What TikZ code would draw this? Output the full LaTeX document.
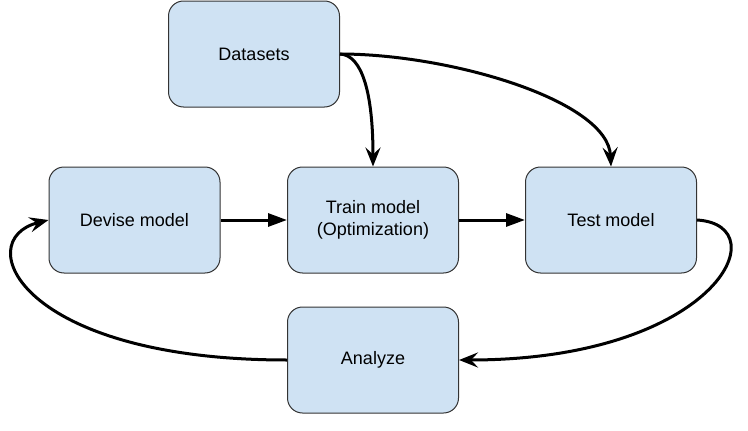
\documentclass[tikz,border=0pt]{standalone}
\usepackage{fontspec}
\setmainfont{Liberation Sans}
\usetikzlibrary{arrows.meta}
\definecolor{boxblue}{HTML}{CFE2F3}
\definecolor{boxline}{HTML}{333333}

\begin{document}
\begin{tikzpicture}
    [
    x=1pt, y=-1pt,
    stage/.style={rectangle,rounded corners=15pt,draw=boxline,line width=1pt,fill=boxblue,
        minimum width=171pt,minimum height=106pt,align=center,
        font=\fontsize{18}{22}\selectfont},
    edge/.style={-{Triangle[length=19pt,width=13pt]},line width=3pt},
    curvededge/.style={-{Stealth[length=19pt,width=15pt,inset=7pt]},line width=3pt}
    ]
\useasboundingbox (0,0) rectangle (748,431);
\node[stage] (data) at (254,54) {Datasets};
\node[stage] (devise) at (134.5,220) {Devise model};
\node[stage] (train) at (373,220) {Train model\\(Optimization)};
\node[stage] (test) at (611,220) {Test model};
\node[stage] (analyze) at (373,360) {Analyze};
\draw[edge] (devise) -- (train);
\draw[edge] (train) -- (test);
\draw[curvededge] (data.east) .. controls +(22,1) and +(0,-74) .. (train.north);
\draw[curvededge] (data.east) .. controls +(110,0) and +(-3,-66) .. (test.north);
\draw[curvededge] (test.east) .. controls +(83,5) and +(256,0) .. (analyze.east);
\draw[curvededge] (analyze.west) .. controls +(-267,0) and +(-79,20) .. (devise.west);
\end{tikzpicture}
\end{document}
